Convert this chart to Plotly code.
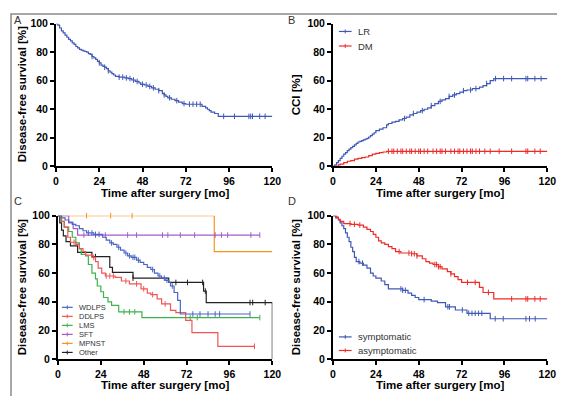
import numpy as np
import plotly.graph_objects as go

W, H = 565, 396

# ---------------- DATA ----------------
# Panel A: overall disease-free survival (step times, survival %)
a_t = [0,1,2,3,4,5,6,7,8,9,10,11,12,13,14,15,16,17,18,19,20,21,22,23,24,25,26,27,28,29,30,31,32,33,
       35,38,40,42,44,46,47,49,51,53,55,57,59,60,61,62,64,66,68,70,72,81,83,84,85,86,88,90]
a_s = [100,99,97,95,93.5,92,90.5,89,88,86.5,85.5,84,83,82,81.5,81,80.5,80,79,78.5,77,76,75,73.5,72.5,71,70,69.5,68.5,67,66,65,64,63,
       62.5,62,61.5,60.5,59.5,58.5,57.5,57,56,55,54,53,51,50,49,48,47,46,45,44,43.5,42,41,40,39,38,37,35]
a_end = 120
a_c = [20,24,27,29,35,37,39,41,43,45,48,50,52,54,57,60,63,67,71,74,76,78,80,93,99,107,108,109,113,116]

# Panel B: cumulative incidence (%) - LR and DM
lr_t = [0,1,2,3,4,5,6,7,8,9,10,11,12,13,14,15,16,17,18,19,20,21,22,23,24,
        26,28,30,31,33,35,37,39,41,43,45,47,49,51,53,55,57,59,61,63,65,67,69,71,73,75,78,82,84,86,88,90]
lr_s = [0,1,2.5,4,5.5,7,8.5,9.5,11,12,13,14,15,16,17,17.5,18,18.5,19,19.5,20.5,21.5,22.5,23.5,25,
        26,27,29,30,31,31.5,32.5,33.5,34.5,36,37,38,39,40,41,42.5,44,45.5,46.5,47.5,49,50,51,52,53,53.5,54.5,55.5,56.5,58,60,61.5]
lr_end = 120
lr_c = [40,45,50,55,60,65,68,73,77,80,86,91,95.5,100,108,109,113,116.5]

dm_t = [0,3,4,6,8,10,12,14,16,18,20,22,24,26,28,30]
dm_s = [0,1,1.5,2.5,3.5,4,5,5.5,6,6.5,7.5,8.5,9,9.5,10,10.5]
dm_end = 120
dm_c = [31,33,34,36,38,39,41,43,44,46,48,49,51,53,56,58,60,61,63,66,68,70,71,73,75,77,78,80,82,85,88,93,100,108,109,113,116]

# Panel C: DFS by histology
wd_t = [0,2,4,6,8,10,12,14,16,20,25,27,29,31,33,35,37,39,41,44,46,48,50,52,54,56,58,60,62,63,65,67,68.5]
wd_s = [100,98.5,97,95.5,94,93,91,89.5,88,87,85,83,81,80,78,76,74,72,71,69,67.5,66,64,62.5,60,58,56.5,55,53.5,51,46.5,41,31.5]
wd_end = 107.5
wd_c = [17,19,21,23,30,34,38,40,42,43,45,53,57,59.5,61,64,75.5,79.5,84,88,90.5,107.5]

dd_t = [0,2,3.5,5.5,7,10,12,14,15.5,19,21,22.5,24.5,26.5,32,35.5,40,46.5,50,52,55.5,58,63,66,71.5,75,89.5]
dd_s = [100,96,92,85,81.5,80,77,75,72.5,71,68,63.5,60,58,57,54.5,52.5,49,46,45,42,38.5,34,32.5,27,18.5,9]
dd_end = 110
dd_c = [9,20,27,29,31,38,44,48,53,60,110]

lm_t = [0,1.5,3.5,6,8,10,12,13,15.5,17,19,21,22,24,25.5,28,30,34,47]
lm_s = [100,96,92,89,85,81,77,73,72,66,60,56,51,47,43,40,37.5,33,29]
lm_end = 113
lm_c = [37,40,43,74,78,113]

sf_t = [0,6,8.5,11]
sf_s = [100,95,91,86.5]
sf_end = 113
sf_c = [14.5,21,26.5,39,44,58.5,61.5,68.5,76.5,88,91.5,95,108,113]

mp_t = [0,87.5]
mp_s = [100,75]
mp_end = 120
mp_c = [16,29.5,41.5]

ot_t = [0,1,2,3,4.5,7,11,19,29,30.5,42,62,81.5,83,120]
ot_s = [100,95,90,86,82,79,74.5,71.5,64,60.5,56.5,53.5,47.5,39.5,0]
ot_end = 120
ot_c = [21,42,66,72.5,81,82.5,107.5,109,116]

# Panel D: DFS by symptoms
sy_t = [0,1.5,3,4,5,6,7,8,9,10,11,12,13,15,17,19,21,22.5,24,27,29,31,39,42,44,46,48,55,58.5,63,68.5,75,88]
sy_s = [100,98.5,97,95,93,91,88,85,82,78,75,71,68,67,65.5,63.5,60,58,56.5,54.5,52,49,48,46,44.5,43,41.5,40.5,39.5,36.5,34.3,32,28.2]
sy_end = 120
sy_c = [14.5,16.5,38,39,40.5,51,64.3,65.2,72.4,76,77.8,79.6,81.5,83.3,90.8,95.3,108,110,113.2]

as_t = [0,2,3,4,6,10,14,17,19,21,22.5,24,25.5,27,29,31,33,35,38,44,47,50,52,54,56,59,61,64,66,68,70,72,82,84,90]
as_s = [100,99,97.5,96,94.5,94,93.5,92,90.5,89,87,85,82.5,81,80,78.5,77,75,74,73.5,72,70,68,67,66,64.5,63,61,59.5,57.5,55.5,53.5,50,46.5,42]
as_end = 120
as_c = [9.5,12,15,37,42.5,44,45.5,47,57,58,59,60,66,75.3,79.6,87,100,108,109,113,116]

x_ticks = [0, 24, 48, 72, 96, 120]
y_ticks = [0, 20, 40, 60, 80, 100]

# ---------------- STYLE ----------------
BLUE = "#3f58b5"
RED = "#ee2b2b"
C_WD = "#4a64c6"
C_DD = "#f25555"
C_LM = "#3db34a"
C_SF = "#a65cc6"
C_MP = "#f7931e"
C_OT = "#222222"

fig = go.Figure()


def add_curve(times, surv, end, cens, color, xa, ya):
    xs = list(times) + [end]
    ys = list(surv) + [surv[-1]]
    fig.add_trace(go.Scatter(x=xs, y=ys, mode="lines", line=dict(color=color, width=1.2, shape="hv"),
                             xaxis=xa, yaxis=ya, showlegend=False, hoverinfo="skip", cliponaxis=False))
    t = np.asarray(times, float)
    s = np.asarray(surv, float)
    idx = np.searchsorted(t, np.asarray(cens, float), side="right") - 1
    fig.add_trace(go.Scatter(x=cens, y=s[idx], mode="markers",
                             marker=dict(symbol="line-ns", size=4, line=dict(width=1, color=color)),
                             xaxis=xa, yaxis=ya, showlegend=False, hoverinfo="skip", cliponaxis=False))


add_curve(a_t, a_s, a_end, a_c, BLUE, "x", "y")
add_curve(lr_t, lr_s, lr_end, lr_c, BLUE, "x2", "y2")
add_curve(dm_t, dm_s, dm_end, dm_c, RED, "x2", "y2")
add_curve(mp_t, mp_s, mp_end, mp_c, C_MP, "x3", "y3")
add_curve(sf_t, sf_s, sf_end, sf_c, C_SF, "x3", "y3")
add_curve(ot_t, ot_s, ot_end, ot_c, C_OT, "x3", "y3")
add_curve(lm_t, lm_s, lm_end, lm_c, C_LM, "x3", "y3")
add_curve(dd_t, dd_s, dd_end, dd_c, C_DD, "x3", "y3")
add_curve(wd_t, wd_s, wd_end, wd_c, C_WD, "x3", "y3")
add_curve(sy_t, sy_s, sy_end, sy_c, BLUE, "x4", "y4")
add_curve(as_t, as_s, as_end, as_c, RED, "x4", "y4")

FONT = "Liberation Sans, Arial, sans-serif"


def px_x(p):
    return p / W


def px_y(p):
    return 1 - p / H


def xax(x0, x1, ya):
    return dict(domain=[px_x(x0), px_x(x1)], range=[0, 120], tickvals=x_ticks, anchor=ya,
                showline=True, linecolor="black", linewidth=2, ticks="outside", ticklen=4,
                tickwidth=1.5, tickcolor="black", showgrid=False, zeroline=False,
                tickfont=dict(family=FONT, size=10.5, color="black", weight="bold"))


def yax(y0, y1, xa):
    return dict(domain=[px_y(y1), px_y(y0)], range=[0, 100], tickvals=y_ticks, anchor=xa,
                showline=True, linecolor="black", linewidth=2, ticks="outside", ticklen=4,
                tickwidth=1.5, tickcolor="black", showgrid=False, zeroline=False,
                tickfont=dict(family=FONT, size=10.5, color="black", weight="bold"))


TOP = (10, 157)
BOT = (208, 356)

fig.update_layout(
    width=W, height=H, margin=dict(l=0, r=0, t=0, b=0),
    paper_bgcolor="white", plot_bgcolor="white", showlegend=False,
    xaxis=xax(46, 267, "y"), yaxis=yax(*TOP, "x"),
    xaxis2=xax(329, 548, "y2"), yaxis2=yax(*TOP, "x2"),
    xaxis3=xax(48, 267, "y3"), yaxis3=yax(*BOT, "x3"),
    xaxis4=xax(329, 548, "y4"), yaxis4=yax(*BOT, "x4"),
)

ann = []
shapes = []


def title_x(cx, cy, text):
    ann.append(dict(x=px_x(cx), y=px_y(cy), xref="paper", yref="paper", text=text, showarrow=False,
                    xanchor="center", yanchor="middle",
                    font=dict(family=FONT, size=11.5, color="black", weight="bold")))


def title_y(cx, cy, text):
    ann.append(dict(x=px_x(cx), y=px_y(cy), xref="paper", yref="paper", text=text, showarrow=False,
                    textangle=-90, xanchor="center", yanchor="middle",
                    font=dict(family=FONT, size=11.5, color="black", weight="bold")))


title_x(157, 185, "Time after surgery [mo]")
title_x(438, 185, "Time after surgery [mo]")
title_x(157, 383, "Time after surgery [mo]")
title_x(438, 383, "Time after surgery [mo]")
title_y(12, 83, "Disease-free survival [%]")
title_y(292, 83, "CCI [%]")
title_y(12, 282, "Disease-free survival [%]")
title_y(292, 282, "Disease-free survival [%]")

for lbl, x, y in [("A", 1, 6), ("B", 281, 6), ("C", 1, 193), ("D", 281, 193)]:
    ann.append(dict(x=px_x(x), y=px_y(y), xref="paper", yref="paper", text=lbl, showarrow=False,
                    xanchor="left", yanchor="middle", font=dict(family=FONT, size=11, color="#333")))


def legend_item(x0, x1, y, color, text, size):
    shapes.append(dict(type="line", xref="paper", yref="paper", x0=px_x(x0), x1=px_x(x1),
                       y0=px_y(y), y1=px_y(y), line=dict(color=color, width=1.2)))
    xm = (x0 + x1) / 2
    shapes.append(dict(type="line", xref="paper", yref="paper", x0=px_x(xm), x1=px_x(xm),
                       y0=px_y(y - 2), y1=px_y(y + 2), line=dict(color=color, width=1)))
    ann.append(dict(x=px_x(x1 + 4), y=px_y(y), xref="paper", yref="paper", text=text, showarrow=False,
                    xanchor="left", yanchor="middle", font=dict(family=FONT, size=size, color="#333")))


legend_item(335, 348, 18, BLUE, "LR", 9.5)
legend_item(335, 348, 33, RED, "DM", 9.5)
legend_item(335, 348, 333, BLUE, "symptomatic", 9.5)
legend_item(335, 348, 347, RED, "asymptomatic", 9.5)
for i, (c, t) in enumerate([(C_WD, "WDLPS"), (C_DD, "DDLPS"), (C_LM, "LMS"),
                            (C_SF, "SFT"), (C_MP, "MPNST"), (C_OT, "Other")]):
    legend_item(52, 63, 302.5 + i * 9.3, c, t, 7.5)

shapes.append(dict(type="rect", xref="paper", yref="paper", x0=0, y0=0, x1=1, y1=1,
                   line=dict(color="#8a8a8a", width=1.5)))

fig.update_layout(annotations=ann, shapes=shapes)
fig.write_html("out.html")
